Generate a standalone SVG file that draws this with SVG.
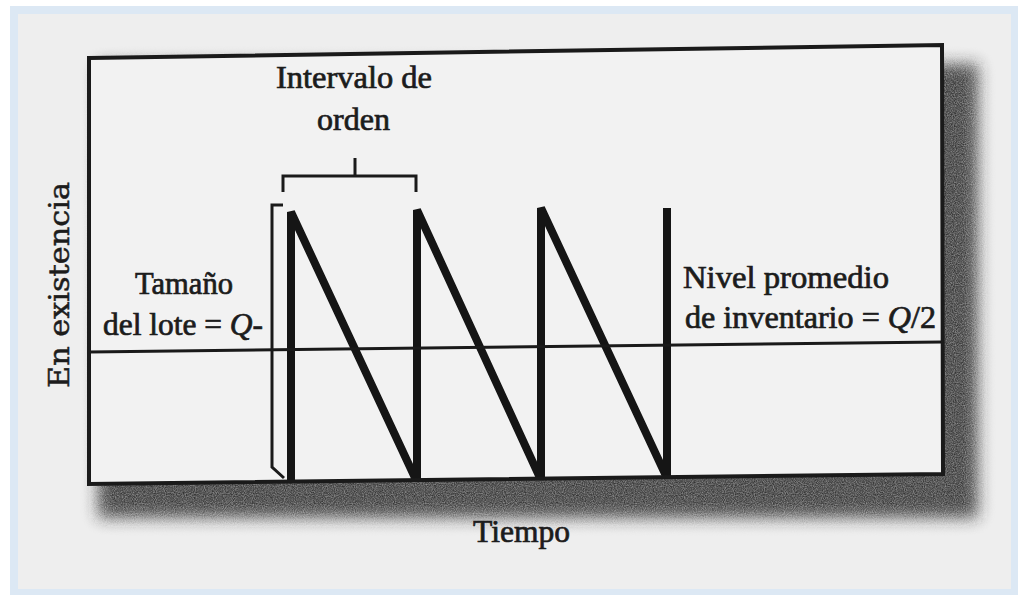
<svg xmlns="http://www.w3.org/2000/svg" width="1018" height="595" viewBox="0 0 1018 595">
  <defs>
    <filter id="shadow" x="-10%" y="-10%" width="120%" height="120%">
      <feGaussianBlur in="SourceGraphic" stdDeviation="8" result="b"/>
      <feTurbulence type="fractalNoise" baseFrequency="0.9" numOctaves="2" seed="3" result="n"/>
      <feColorMatrix in="n" type="matrix" values="0 0 0 0 0  0 0 0 0 0  0 0 0 0 0  0 0 0 -0.7 1.15" result="na"/>
      <feComposite in="b" in2="na" operator="in"/>
    </filter>
    <style>
      .lbl { font-family: "Liberation Serif", "DejaVu Serif", serif; font-size: 31px; fill: #1c1c1c; stroke: #1c1c1c; stroke-width: 0.7px; }
      .ax { font-family: "DejaVu Serif", "Liberation Serif", serif; font-size: 27px; fill: #1c1c1c; stroke: #1c1c1c; stroke-width: 0.5px; }
      .thin { fill: none; stroke: #1a1a1a; stroke-width: 3; }
      .thick { fill: none; stroke: #151515; stroke-width: 8; stroke-linejoin: bevel; stroke-linecap: butt; }
      .q { font-style: italic; }
    </style>
    <clipPath id="inside">
      <polygon points="89,58 942,45 943,474 89,484"/>
    </clipPath>
  </defs>

  <!-- page frame -->
  <rect x="0" y="0" width="1018" height="595" fill="#ffffff"/>
  <rect x="10" y="6" width="1008" height="589" fill="#dce8f4"/>
  <rect x="18" y="14" width="993" height="575" fill="#eeeeee"/>

  <!-- box shadow -->
  <rect x="98" y="64" width="880" height="454" fill="#222222" opacity="0.9" filter="url(#shadow)"/>

  <!-- chart box -->
  <g id="chart-box">
    <polygon points="89,58 942,45 943,474 89,484" fill="#f2f2f2"/>
  </g>

  <g id="connectors">
    <g clip-path="url(#inside)">
      <!-- sawtooth inventory -->
      <path class="thick" d="M291,486 L291,212 L417,482 M417,482 L417,210 L541,480 M541,480 L541,208 L667,478 M667,478 L667,208"/>
    </g>
    <!-- average level line -->
    <line x1="89" y1="352" x2="942" y2="342" class="thin"/>
    <!-- order interval bracket -->
    <path class="thin" d="M283,192 L283,176 L416,176 L416,192 M355,176 L355,158"/>
    <!-- lot size bracket -->
    <path class="thin" d="M283,205 L272,205 L272,467 L284,478"/>
    <!-- box outline -->
    <polygon points="89,58 942,45 943,474 89,484" fill="none" stroke="#1a1a1a" stroke-width="4"/>
  </g>

  <g id="label-intervalo">
    <text class="lbl" x="276" y="88" textLength="156" lengthAdjust="spacingAndGlyphs">Intervalo de</text>
    <text class="lbl" x="317" y="130" textLength="73" lengthAdjust="spacingAndGlyphs">orden</text>
  </g>
  <g id="label-lote">
    <text class="lbl" x="135" y="294" textLength="98" lengthAdjust="spacingAndGlyphs">Tamaño</text>
    <text class="lbl" x="103" y="335" textLength="160" lengthAdjust="spacingAndGlyphs">del lote = <tspan class="q">Q</tspan>-</text>
  </g>
  <g id="label-nivel">
    <text class="lbl" x="683" y="288" textLength="206" lengthAdjust="spacingAndGlyphs">Nivel promedio</text>
    <text class="lbl" x="685" y="328" textLength="251" lengthAdjust="spacingAndGlyphs">de inventario = <tspan class="q">Q</tspan>/2</text>
  </g>
  <g id="label-tiempo">
    <text class="lbl" x="473" y="542" textLength="97" lengthAdjust="spacingAndGlyphs">Tiempo</text>
  </g>
  <g id="label-existencia">
    <text class="ax" transform="translate(69,388) rotate(-90)" x="0" y="0" textLength="206" lengthAdjust="spacingAndGlyphs">En existencia</text>
  </g>
</svg>
